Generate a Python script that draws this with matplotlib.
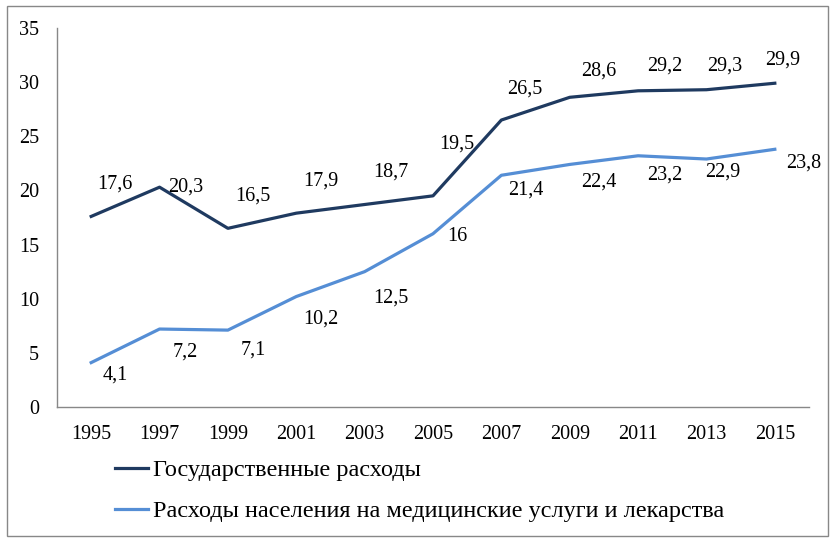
import matplotlib
matplotlib.use("Agg")
import matplotlib.pyplot as plt
from matplotlib.patches import Rectangle

years = ["1995", "1997", "1999", "2001", "2003", "2005", "2007", "2009", "2011", "2013", "2015"]
gov = [17.6, 20.3, 16.5, 17.9, 18.7, 19.5, 26.5, 28.6, 29.2, 29.3, 29.9]
pop = [4.1, 7.2, 7.1, 10.2, 12.5, 16.0, 21.4, 22.4, 23.2, 22.9, 23.8]
series_names = ["Государственные расходы",
                "Расходы населения на медицинские услуги и лекарства"]

# label offsets in pixels (layout only)
gov_off = [(24, 32), (26, 0), (25, 32), (25, 32), (26, 32), (24, 52), (23, 31), (29, 26), (27, 25), (18, 24), (8, 23)]
pop_off = [(24, -12), (26, -23), (25, -20), (25, -22), (26, -26), (24, -3), (24, -15), (29, -18), (27, -19), (16, -13), (29, -14)]

plt.rcParams['font.family'] = ['Liberation Serif', 'DejaVu Serif']

fig = plt.figure(figsize=(8.38, 5.42), dpi=100)
ax = fig.add_axes([57/838, (542-407)/542, (809-57)/838, (407-28)/542])

x = list(range(len(years)))
c_gov = "#1F3A60"
c_pop = "#558ED5"
ax.plot(x, gov, color=c_gov, lw=2.3, label=series_names[0], solid_joinstyle='round')
ax.plot(x, pop, color=c_pop, lw=2.3, label=series_names[1], solid_joinstyle='round')

def fmt(v):
    return ("%g" % v).replace(".", ",")

for xi, v, o in zip(x, gov, gov_off):
    ax.annotate(fmt(v), (xi, v), xytext=o, textcoords='offset pixels',
                ha='center', va='center', fontsize=14.5)
for xi, v, o in zip(x, pop, pop_off):
    ax.annotate(fmt(v), (xi, v), xytext=o, textcoords='offset pixels',
                ha='center', va='center', fontsize=14.5)

ax.set_xlim(-0.5, len(years) - 0.5)
ax.set_ylim(0, 35)
ax.set_yticks(range(0, 36, 5))
ax.set_xticks(x)
ax.set_xticklabels(years)
ax.tick_params(axis='both', length=0, labelsize=14.5)
ax.tick_params(axis='y', pad=13)
ax.tick_params(axis='x', pad=13)
for s in ['top', 'right']:
    ax.spines[s].set_visible(False)
for s in ['left', 'bottom']:
    ax.spines[s].set_color('#888888')
    ax.spines[s].set_linewidth(1)

leg = fig.legend(loc='upper left', bbox_to_anchor=(115/838, 1 - 459/542),
                 frameon=False, fontsize=17.5, handlelength=1.36, handletextpad=0.2,
                 labelspacing=0.8, borderaxespad=0, borderpad=0)

fig.patches.append(Rectangle((7/838, 6/542), (828-7)/838, (536-6)/542,
                             transform=fig.transFigure, fill=False,
                             edgecolor='#888888', lw=1))

fig.savefig("out.png", dpi=100)
